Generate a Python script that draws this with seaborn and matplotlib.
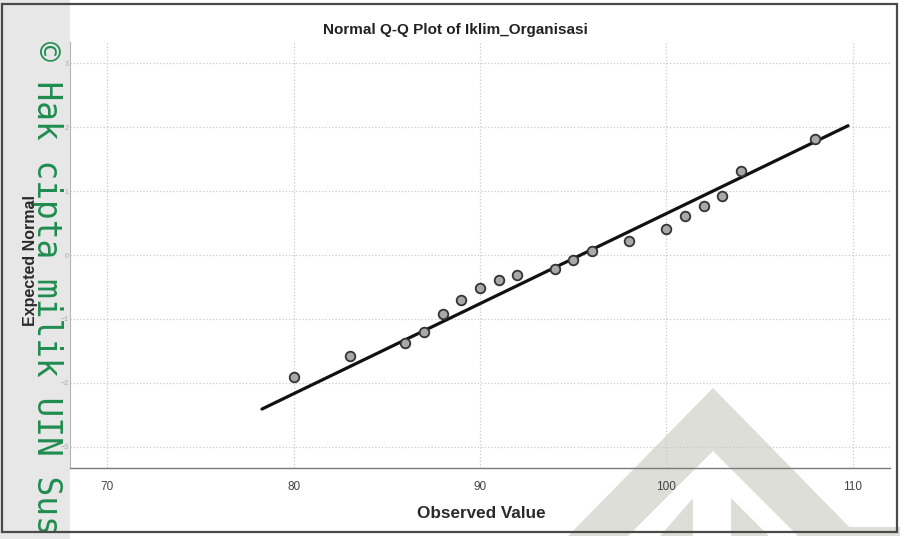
import matplotlib
matplotlib.use("Agg")
import matplotlib.pyplot as plt
import seaborn as sns
import pandas as pd
from matplotlib.patches import Polygon, Rectangle

# Observed scores and their expected normal quantiles
observed = [80, 83, 86, 87, 88, 89, 90, 91, 92, 94, 95, 96, 98, 100, 101, 102, 103, 104, 108]
expected = [-1.90, -1.58, -1.37, -1.21, -0.93, -0.70, -0.51, -0.39, -0.32, -0.22,
            -0.08, 0.07, 0.22, 0.41, 0.61, 0.77, 0.93, 1.31, 1.82]

# Reference line: standardised value (x - mean) / sd over the drawn span
line_mean = 95.4
line_sd = 7.1
line_span = [78.3, 109.75]

x_ticks = [70, 80, 90, 100, 110]
y_ticks = [-3, -2, -1, 0, 1, 2, 3]

title = "Normal Q-Q Plot of Iklim_Organisasi"
x_label = "Observed Value"
y_label = "Expected Normal"
side_mark = "\u00a9 Hak cipta milik UIN Sus"

sns.set_style("white")
plt.rcParams["font.family"] = ["Liberation Sans", "DejaVu Sans"]

W, H = 905, 539
fig = plt.figure(figsize=(W / 100, H / 100), dpi=100)
fig.patch.set_facecolor("white")


def fx(px):
    return px / W


def fy(py):
    return 1 - py / H


# grey strip on the left edge
fig.patches.append(Rectangle((0, 0), fx(70), 1, transform=fig.transFigure,
                             facecolor="#e7e7e7", edgecolor="none", zorder=0))

# faint logo in the lower right corner
logo = "#dcded7"
logo_shapes = [
    [(713, 388), (568, 536), (858, 536)],
]
for pts in logo_shapes:
    fig.patches.append(Polygon([(fx(a), fy(b)) for a, b in pts], closed=True,
                               transform=fig.transFigure, facecolor=logo,
                               edgecolor="none", zorder=0))
holes = [
    [(713, 451), (628, 536), (798, 536)],
]
for pts in holes:
    fig.patches.append(Polygon([(fx(a), fy(b)) for a, b in pts], closed=True,
                               transform=fig.transFigure, facecolor="white",
                               edgecolor="none", zorder=0.1))
inner = [
    [(693, 498), (660, 536), (693, 536)],
    [(731, 498), (731, 536), (769, 536)],
    [(797, 527), (900, 527), (900, 536), (797, 536)],
]
for pts in inner:
    fig.patches.append(Polygon([(fx(a), fy(b)) for a, b in pts], closed=True,
                               transform=fig.transFigure, facecolor=logo,
                               edgecolor="none", zorder=0.2))

# outer frame
fig.patches.append(Rectangle((fx(2), fy(532)), fx(897) - fx(2), fy(4) - fy(532),
                             transform=fig.transFigure, facecolor="none",
                             edgecolor="#4a4a4a", linewidth=1.6, zorder=5))

# vertical green notice
fig.text(fx(46), fy(41), side_mark, rotation=270, ha="center", va="top",
         fontsize=23.7, color="#1f8c4f", family=["DejaVu Sans Mono", "DejaVu Sans"],
         zorder=1)

ax = fig.add_axes([fx(70), fy(468), fx(890) - fx(70), fy(42) - fy(468)])
ax.set_facecolor("none")
ax.set_zorder(2)

df = pd.DataFrame({"observed": observed, "expected": expected})
line_y = [(v - line_mean) / line_sd for v in line_span]
line_df = pd.DataFrame({"x": line_span, "y": line_y})

sns.lineplot(data=line_df, x="x", y="y", ax=ax, color="#111111", linewidth=2.3,
             zorder=3)
sns.scatterplot(data=df, x="observed", y="expected", ax=ax, s=48,
                facecolor="#a8a8a8", edgecolor="#333333", linewidth=1.3,
                zorder=4)

ax.set_xlim(68, 112)
ax.set_ylim(-3.33, 3.33)
ax.set_xticks(x_ticks)
ax.set_yticks(y_ticks)
ax.grid(True, color="#c9c9c9", linestyle=":", linewidth=0.9)
ax.set_axisbelow(True)

for side in ("top", "right"):
    ax.spines[side].set_visible(False)
ax.spines["left"].set_color("#b5b5b5")
ax.spines["left"].set_linewidth(0.8)
ax.spines["bottom"].set_color("#7a7a7a")
ax.spines["bottom"].set_linewidth(1.0)

ax.tick_params(axis="x", length=0, pad=9, labelsize=8.5, labelcolor="#444444")
ax.tick_params(axis="y", length=0, pad=1, labelsize=5, labelcolor="#a8a8a8")
ax.set_xlabel("")
ax.set_ylabel("")

fig.text(fx(455), fy(30), title, ha="center", va="center", fontsize=11,
         fontweight="bold", color="#222222")
fig.text(fx(481), fy(513), x_label, ha="center", va="center", fontsize=12.3,
         fontweight="bold", color="#2a2a2a")
fig.text(fx(31), fy(260), y_label, ha="center", va="center", rotation=90,
         fontsize=11.5, fontweight="bold", color="#2a2a2a", zorder=6)

fig.savefig("out.png", dpi=100)
